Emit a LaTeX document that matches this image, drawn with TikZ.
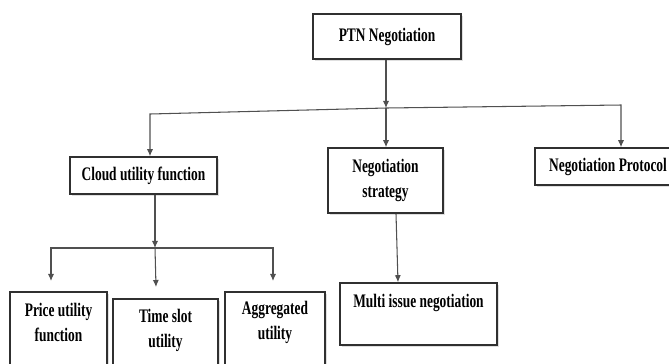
\documentclass[tikz,border=0pt]{standalone}
\usepackage{fontspec}
\newfontfamily\boxfont[FakeStretch=0.70]{Liberation Serif}
\usetikzlibrary{positioning}
\usetikzlibrary{arrows.meta,shadows}

\definecolor{boxgray}{HTML}{303030}
\definecolor{linkgray}{HTML}{505050}

\tikzset{
  box/.style={draw=boxgray, line width=0.9pt, fill=white, inner sep=0pt, align=center,
    font=\boxfont\bfseries\fontsize{10.9}{14.2}\selectfont,
    drop shadow={shadow xshift=1.2pt, shadow yshift=-1.2pt, opacity=0.25}},
  frame/.style={draw=boxgray, line width=0.9pt, fill=white,
    drop shadow={shadow xshift=1.2pt, shadow yshift=-1.2pt, opacity=0.25}},
  txt/.style={inner sep=0pt, align=center, font=\boxfont\bfseries\fontsize{10.9}{14.2}\selectfont},
  link/.style={draw=linkgray, line width=0.6pt, -{Latex[length=4pt,width=3.5pt]}}
}

\begin{document}
\begin{tikzpicture}[x=0.02cm, y=-0.02cm]
\useasboundingbox (0,0) rectangle (669,363);
\clip (0,0) rectangle (669,363);

%top level
\node[box, minimum width=2.96cm, minimum height=0.9cm] (ptn) at (387,36.5) {PTN Negotiation};
\node[box, minimum width=2.94cm, minimum height=0.74cm] (cloud) at (143.5,175.5) {Cloud utility function};
\node[box, minimum width=2.3cm, minimum height=1.3cm] (strategy) at (385.5,180.5) {Negotiation\\strategy};
\node[box, minimum width=2.92cm, minimum height=0.74cm] (protocol) at (608,166.5) {Negotiation Protocol};
\node[box, minimum width=3.14cm, minimum height=1.24cm, text height=0.26cm, text depth=0.51cm] (multi) at (418.5,314) {Multi issue negotiation};

%bottom boxes (cut off by the page)
\draw[frame] (10,292) rectangle (107,380);
\draw[frame] (113,299) rectangle (218,380);
\draw[frame] (225,292) rectangle (325,380);
\node[txt] (price) at (58.5,322.5) {Price utility\\function};
\node[txt] (timeslot) at (165.5,330.5) {Time slot\\utility};
\node[txt] (aggregated) at (275,322.5) {Aggregated\\utility};

%junctions
\coordinate (j1) at (386,108);
\coordinate (l1) at (150,114);
\coordinate (r1) at (621,105);
\coordinate (j2) at (155,248);
\coordinate (l2) at (51,248);
\coordinate (r2) at (273,248);
\coordinate (pricetop) at (51,281);
\coordinate (timetop) at (156,287);
\coordinate (aggtop) at (273,281);
\coordinate (s1) at (396,0);
\coordinate (m1) at (398,0);

%connectors
\draw[link] (ptn.south -| j1) -- (j1);
\draw[link] (j1) -- (l1) -- (l1 |- cloud.north);
\draw[link] (j1) -- (j1 |- strategy.north);
\draw[link] (j1) -- (r1) -- (r1 |- protocol.north);

\draw[link] (j2 |- cloud.south) -- (j2);
\draw[link] (j2) -- (l2) -- (pricetop);
\draw[link] (j2) -- (timetop);
\draw[link] (j2) -- (r2) -- (aggtop);

\draw[link] (strategy.south -| s1) -- (multi.north -| m1);

\end{tikzpicture}
\end{document}
